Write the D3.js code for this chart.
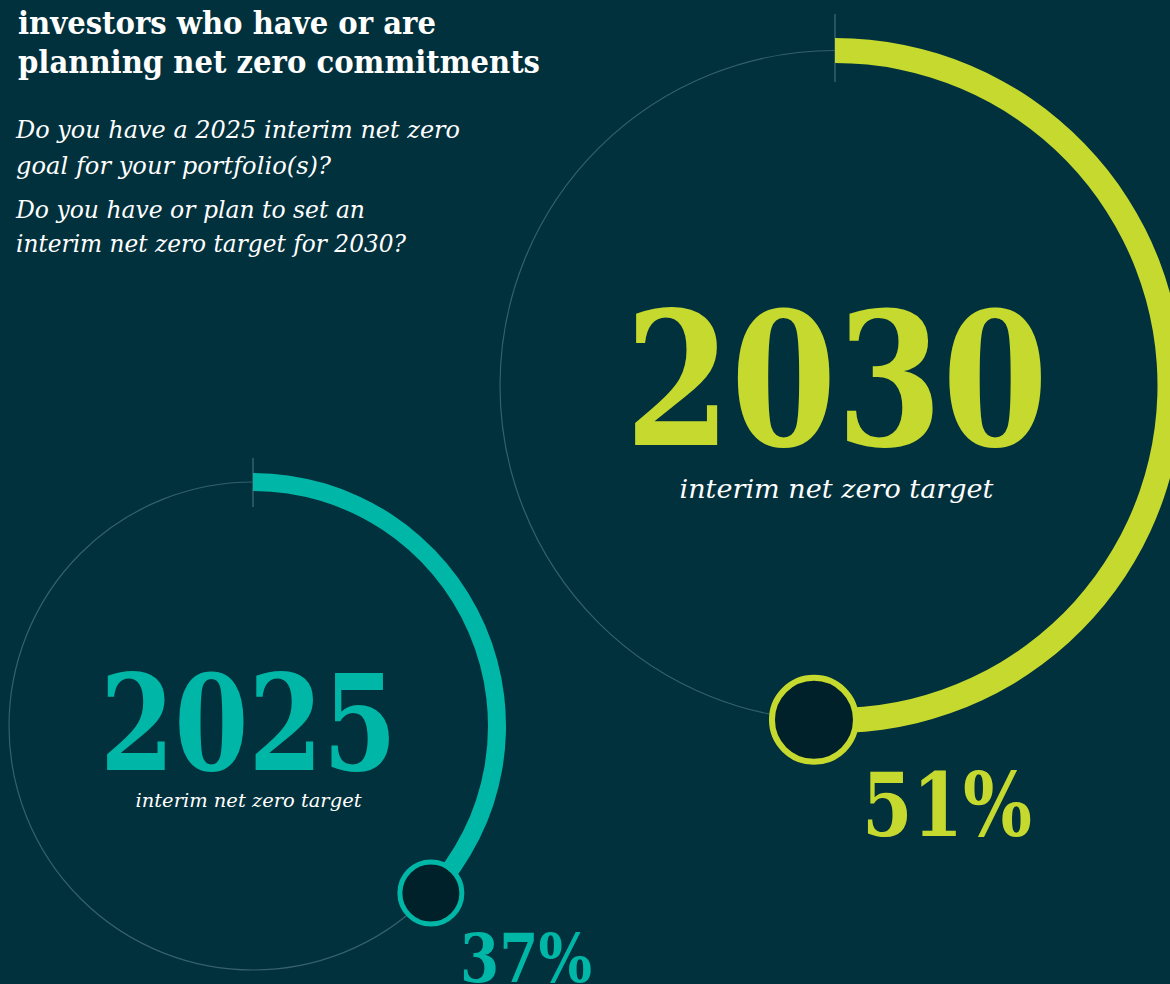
<!DOCTYPE html>
<html>
<head>
<meta charset="utf-8">
<script src="https://cdn.jsdelivr.net/npm/d3@7"></script>
<style>
  html, body { margin: 0; padding: 0; background: #01313c; overflow: hidden; }
  svg { display: block; }
</style>
</head>
<body>
<script>
// Survey results: share of investors with interim net zero targets
const targetYears = ["2025", "2030"];
const sharePercent = [37, 51];
const targetCaption = "interim net zero target";
const titleLines = ["investors who have or are", "planning net zero commitments"];
const questionLines = [
  "Do you have a 2025 interim net zero",
  "goal for your portfolio(s)?",
  "Do you have or plan to set an",
  "interim net zero target for 2030?"
];

const W = 1170, H = 984;
const BG = "#01313c";
const KNOB_FILL = "#01212a";
const RING = "#36606d";
const serif = "'DejaVu Serif', Georgia, serif";

// Layout of each gauge (one per target year)
const gauges = [
  { cx: 253, cy: 726, r: 244, band: 18, knobR: 31, knobStroke: 5, color: "#00b6a6",
    yearY: 770, yearW: 297, yearX: 248.5, capY: 807, capW: 226, capSize: 19,
    pctX: 526, pctY: 982, pctW: 132, pctSize: 68, yearSize: 132, tickTop: 458, tickBot: 507 },
  { cx: 835, cy: 385.5, r: 335, band: 25, knobR: 42, knobStroke: 6, color: "#c6d92e",
    yearY: 445, yearW: 423, yearX: 836.5, capY: 498, capW: 314, capSize: 26,
    pctX: 947, pctY: 836, pctW: 170, pctSize: 88, yearSize: 186, tickTop: 14, tickBot: 82 }
];

const svg = d3.select("body").append("svg")
  .attr("width", W).attr("height", H);

svg.append("rect").attr("width", W).attr("height", H).attr("fill", BG);

// Percent -> angle (clockwise from 12 o'clock)
const angle = d3.scaleLinear().domain([0, 100]).range([0, 2 * Math.PI]);

gauges.forEach((g, i) => {
  const value = sharePercent[i];
  const grp = svg.append("g");

  // Thin full ring
  grp.append("circle")
    .attr("cx", g.cx).attr("cy", g.cy).attr("r", g.r)
    .attr("fill", "none").attr("stroke", RING).attr("stroke-width", 1.2);

  // Start tick at 12 o'clock
  grp.append("line")
    .attr("x1", g.cx).attr("x2", g.cx)
    .attr("y1", g.tickTop).attr("y2", g.tickBot)
    .attr("stroke", RING).attr("stroke-width", 1.5);

  // Progress band
  const arc = d3.arc()
    .innerRadius(g.r - g.band / 2)
    .outerRadius(g.r + g.band / 2)
    .startAngle(0)
    .endAngle(angle(value));
  grp.append("path")
    .attr("transform", `translate(${g.cx},${g.cy})`)
    .attr("d", arc())
    .attr("fill", g.color);

  // End knob
  const a = angle(value);
  grp.append("circle")
    .attr("cx", g.cx + g.r * Math.sin(a))
    .attr("cy", g.cy - g.r * Math.cos(a))
    .attr("r", g.knobR)
    .attr("fill", KNOB_FILL)
    .attr("stroke", g.color)
    .attr("stroke-width", g.knobStroke);

  // Year
  grp.append("text")
    .attr("x", g.yearX).attr("y", g.yearY)
    .attr("text-anchor", "middle")
    .attr("font-family", serif).attr("font-weight", "bold")
    .attr("font-size", g.yearSize)
    .attr("textLength", g.yearW).attr("lengthAdjust", "spacingAndGlyphs")
    .attr("fill", g.color)
    .text(targetYears[i]);

  // Caption
  grp.append("text")
    .attr("x", g.yearX).attr("y", g.capY)
    .attr("text-anchor", "middle")
    .attr("font-family", serif).attr("font-style", "italic")
    .attr("font-size", g.capSize)
    .attr("textLength", g.capW).attr("lengthAdjust", "spacingAndGlyphs")
    .attr("fill", "#ffffff")
    .text(targetCaption);

  // Percentage
  grp.append("text")
    .attr("x", g.pctX).attr("y", g.pctY)
    .attr("text-anchor", "middle")
    .attr("font-family", serif).attr("font-weight", "bold")
    .attr("font-size", g.pctSize)
    .attr("textLength", g.pctW).attr("lengthAdjust", "spacingAndGlyphs")
    .attr("fill", g.color)
    .text(value + "%");
});

// Title
const titleY = [34, 73];
const titleW = [418, 522];
svg.selectAll("text.title").data(titleLines).join("text")
  .attr("class", "title")
  .attr("x", 18).attr("y", (d, i) => titleY[i])
  .attr("font-family", serif).attr("font-weight", "bold")
  .attr("font-size", 32)
  .attr("textLength", (d, i) => titleW[i]).attr("lengthAdjust", "spacingAndGlyphs")
  .attr("fill", "#ffffff")
  .text(d => d);

// Survey questions
const qY = [138, 174, 218, 252];
const qW = [444, 315, 349, 390];
svg.selectAll("text.q").data(questionLines).join("text")
  .attr("class", "q")
  .attr("x", 16).attr("y", (d, i) => qY[i])
  .attr("font-family", serif).attr("font-style", "italic")
  .attr("font-size", 24.5)
  .attr("textLength", (d, i) => qW[i]).attr("lengthAdjust", "spacingAndGlyphs")
  .attr("fill", "#ffffff")
  .text(d => d);
</script>
</body>
</html>
